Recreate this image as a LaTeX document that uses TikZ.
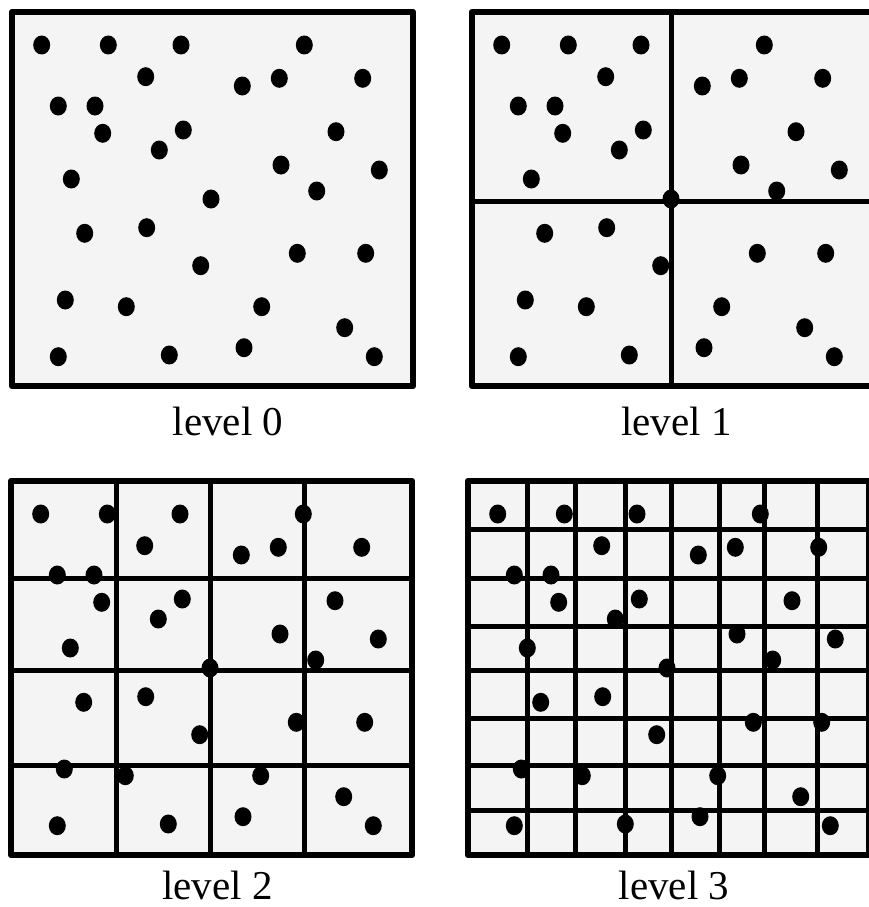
\documentclass[tikz,border=0pt]{standalone}
\usepackage{fontspec}
\setmainfont{Liberation Serif}
\usetikzlibrary{positioning}
\definecolor{panelgray}{HTML}{F4F4F4}
\tikzstyle{frame} = [draw=black, fill=panelgray, line width=6.5pt, line join=round]
\tikzstyle{cut} = [draw=black, line width=5pt]
\tikzstyle{pt} = [fill=black]
\tikzstyle{caption} = [anchor=base, inner sep=0pt, text depth=0pt, font=\fontsize{41}{49}\selectfont]
\newcommand{\pointcloud}{%
  \foreach \px/\py in {41.7/45, 108.3/45, 181/45, 304.3/45, 145.7/76.7, 242.3/86,
      279.3/78.3, 362.7/78.3, 58.3/106, 95/106, 102.7/133.3, 183.3/130, 159.3/150,
      336/131.7, 281/165, 379.3/170, 71.3/179, 316.7/191, 211/199, 84.7/233.3,
      146.7/227.7, 297.3/253.3, 365.7/253.3, 200.7/265.7, 65.3/300, 126.3/306.7,
      261.7/306.7, 344.7/327.7, 58.3/356.7, 169.3/355, 244/347.7, 374.3/356.7}
    \fill[pt] (\px,\py) ellipse [x radius=8.5pt, y radius=9.5pt];}

\begin{document}
\begin{tikzpicture}[x=1pt, y=-1pt]
    \useasboundingbox (0,0) rectangle (868,907);

    \draw[frame] (12,12) rectangle (413,386);
    \pointcloud
    \node[caption] (lvl0) at (228,435) {level 0};

    \begin{scope}[shift={(460,0)}]
      \draw[frame] (12,12) rectangle (413,386);
      \draw[cut] (211.3,12) -- (211.3,386);
      \draw[cut] (12,201.5) -- (413,201.5);
      \pointcloud
    \end{scope}
    \node[caption] (lvl1) at (676.5,435) {level 1};

    \begin{scope}[shift={(-1,469)}]
      \draw[frame] (12,12) rectangle (413,386);
      \foreach \gx in {117.7, 211, 305} \draw[cut] (\gx,12) -- (\gx,386);
      \foreach \gy in {109.3, 201, 296} \draw[cut] (12,\gy) -- (413,\gy);
      \pointcloud
    \end{scope}
    \node[caption] (lvl2) at (217.6,899) {level 2};

    \begin{scope}[shift={(456,469)}]
      \draw[frame] (12,12) rectangle (413,386);
      \foreach \gx in {71.3, 119.7, 169, 215.3, 263, 308, 361.3} \draw[cut] (\gx,12) -- (\gx,386);
      \foreach \gy in {60.3, 109.3, 157.7, 201, 249.3, 296, 341} \draw[cut] (12,\gy) -- (413,\gy);
      \pointcloud
    \end{scope}
    \node[caption] (lvl3) at (674,899) {level 3};
\end{tikzpicture}
\end{document}
